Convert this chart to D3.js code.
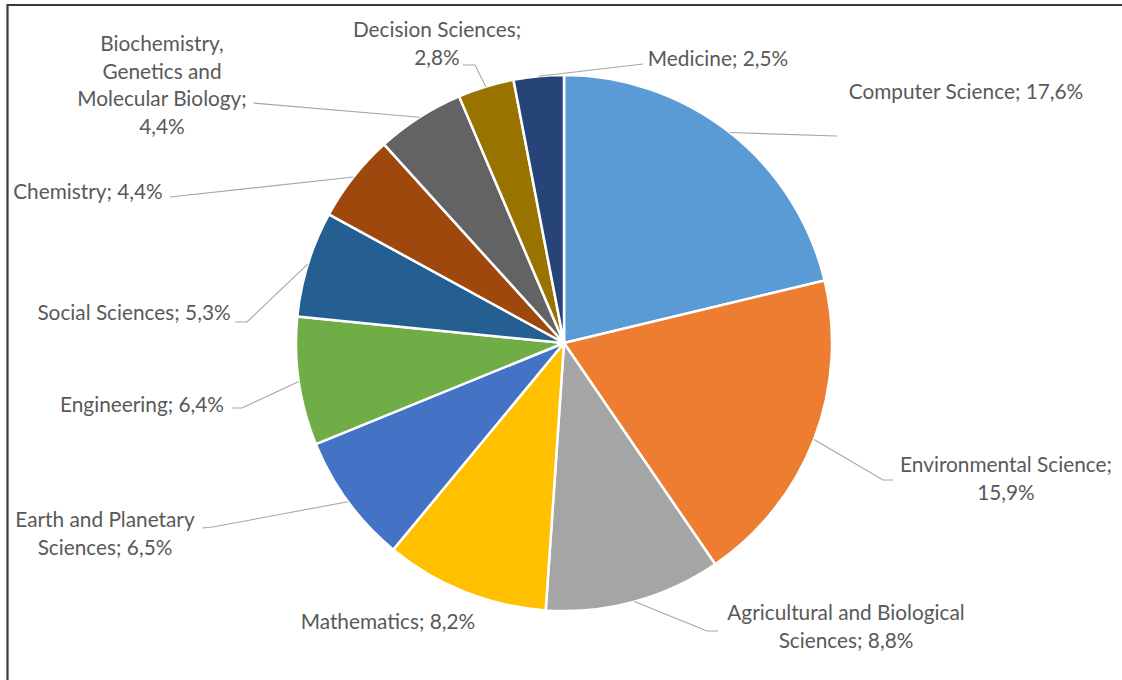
<!DOCTYPE html>
<html>
<head>
<meta charset="utf-8">
<script src="https://cdn.jsdelivr.net/npm/d3@7"></script>
<style>
  html, body { margin: 0; padding: 0; background: #fff; }
  svg { display: block; }
</style>
</head>
<body>
<svg id="chart" width="1122" height="680"></svg>
<script>
// Subject areas and their share of documents (%)
const categories = [
  "Computer Science", "Environmental Science", "Agricultural and Biological Sciences",
  "Mathematics", "Earth and Planetary Sciences", "Engineering", "Social Sciences",
  "Chemistry", "Biochemistry, Genetics and Molecular Biology", "Decision Sciences", "Medicine"
];
const shares = [17.6, 15.9, 8.8, 8.2, 6.5, 6.4, 5.3, 4.4, 4.4, 2.8, 2.5];
const sliceColors = [
  "#5B9BD5", "#ED7D31", "#A5A5A5", "#FFC000", "#4472C4", "#70AD47",
  "#255E91", "#9E480E", "#636363", "#997300", "#264478"
];

// Label text lines (name; value) as wrapped in the chart
const labelLines = [
  ["Computer Science; 17,6%"],
  ["Environmental Science;", "15,9%"],
  ["Agricultural and Biological", "Sciences; 8,8%"],
  ["Mathematics; 8,2%"],
  ["Earth and Planetary", "Sciences; 6,5%"],
  ["Engineering; 6,4%"],
  ["Social Sciences; 5,3%"],
  ["Chemistry; 4,4%"],
  ["Biochemistry,", "Genetics and", "Molecular Biology;", "4,4%"],
  ["Decision Sciences;", "2,8%"],
  ["Medicine; 2,5%"]
];

// Label placement: centre x, centre y of the first line, and leader-line bend points
const labelPlacement = [
  { x: 966,  y: 92,  leader: [[837, 136]] },
  { x: 1006, y: 465, leader: [[883, 480], [893, 480]] },
  { x: 846,  y: 613, leader: [[707, 631], [718, 631]] },
  { x: 388,  y: 622, leader: null },
  { x: 105,  y: 520, leader: [[213, 527], [202, 528]] },
  { x: 142,  y: 405, leader: [[242, 408], [232, 408]] },
  { x: 134,  y: 313, leader: [[247, 322], [235, 322]] },
  { x: 88,   y: 192, leader: [[170, 197]] },
  { x: 162,  y: 44,  leader: [[253, 103]] },
  { x: 437,  y: 30,  leader: [[475, 65], [463, 65]] },
  { x: 718,  y: 59,  leader: [[643, 64]] }
];

const W = 1122, H = 680;
const cx = 564, cy = 343, radius = 268;
const lineHeight = 27.5;

const svg = d3.select("#chart");

// Frame (left and top edges visible)
svg.append("path")
  .attr("d", `M7.5,${H} V5 H${W}`)
  .attr("fill", "none")
  .attr("stroke", "#3b3b3b")
  .attr("stroke-width", 2.2);

const data = categories.map((c, i) => ({ name: c, value: shares[i], i }));

const pie = d3.pie().sort(null).value(d => d.value).startAngle(0).endAngle(2 * Math.PI);
const arcs = pie(data);
const arc = d3.arc().innerRadius(0).outerRadius(radius);

const color = d3.scaleOrdinal().domain(categories).range(sliceColors);

const g = svg.append("g").attr("transform", `translate(${cx},${cy})`);

g.selectAll("path.slice")
  .data(arcs)
  .join("path")
  .attr("class", "slice")
  .attr("d", arc)
  .attr("fill", d => color(d.data.name))
  .attr("stroke", "#ffffff")
  .attr("stroke-width", 2.5)
  .attr("stroke-linejoin", "round");

// Leader lines from the outer edge of each slice at its mid-angle
const edgePoint = d => {
  const a = (d.startAngle + d.endAngle) / 2;
  return [cx + radius * Math.sin(a), cy - radius * Math.cos(a)];
};

svg.append("g")
  .selectAll("path.leader")
  .data(arcs.filter(d => labelPlacement[d.data.i].leader))
  .join("path")
  .attr("class", "leader")
  .attr("d", d => d3.line()([edgePoint(d), ...labelPlacement[d.data.i].leader]))
  .attr("fill", "none")
  .attr("stroke", "#a6a6a6")
  .attr("stroke-width", 1.1);

// Data labels
const labels = svg.append("g")
  .attr("font-family", "Lato, 'Open Sans', sans-serif")
  .attr("font-size", 20.8)
  .attr("fill", "#595959")
  .attr("text-anchor", "middle");

labels.selectAll("text")
  .data(arcs)
  .join("text")
  .each(function (d) {
    const p = labelPlacement[d.data.i];
    d3.select(this).selectAll("tspan")
      .data(labelLines[d.data.i])
      .join("tspan")
      .attr("x", p.x)
      .attr("y", (t, k) => p.y + k * lineHeight)
      .attr("dy", "0.35em")
      .text(t => t);
  });
</script>
</body>
</html>
